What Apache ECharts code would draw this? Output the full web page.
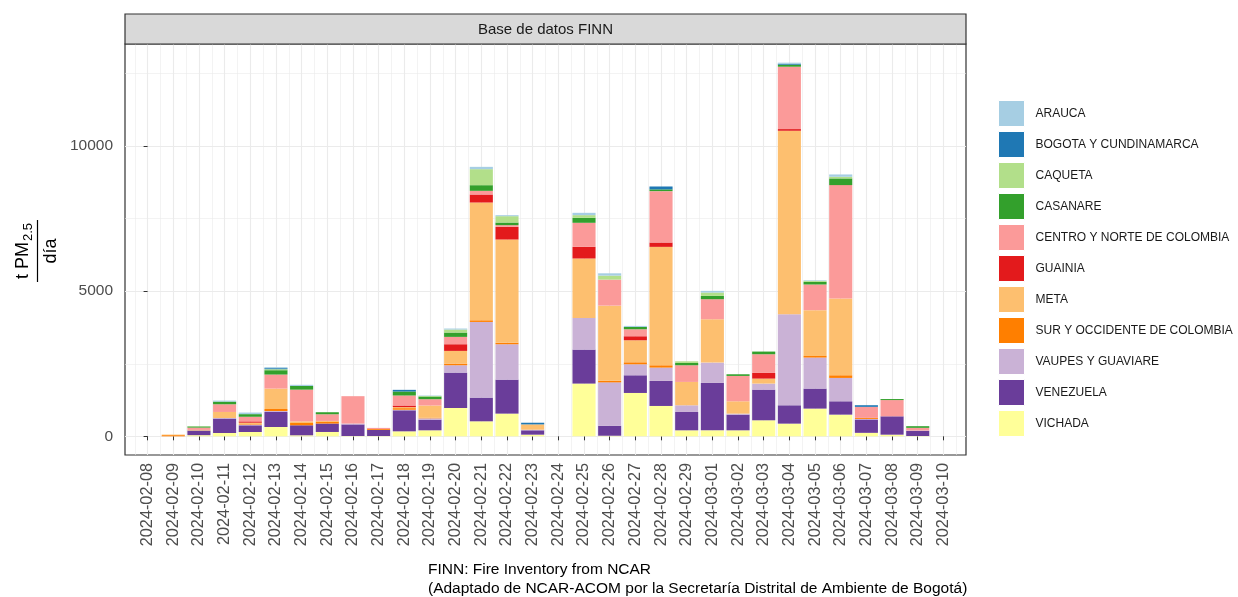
<!DOCTYPE html>
<html><head><meta charset="utf-8">
<script src="https://cdn.jsdelivr.net/npm/echarts@6/dist/echarts.min.js"></script>
<style>html,body{margin:0;padding:0;background:#fff}#c{width:1238px;height:597px}</style>
</head><body><div id="c"></div>
<script>
const DATES = ['2024-02-08','2024-02-09','2024-02-10','2024-02-11','2024-02-12','2024-02-13','2024-02-14','2024-02-15','2024-02-16','2024-02-17','2024-02-18','2024-02-19','2024-02-20','2024-02-21','2024-02-22','2024-02-23','2024-02-24','2024-02-25','2024-02-26','2024-02-27','2024-02-28','2024-02-29','2024-03-01','2024-03-02','2024-03-03','2024-03-04','2024-03-05','2024-03-06','2024-03-07','2024-03-08','2024-03-09','2024-03-10'];
const Y_TICKS = [0, 5000, 10000];
const Y_MINOR = [2500, 7500, 12500];

const VICHADA   = [0,0,40,115,148,320,35,150,10,10,172,207,976,517,782,57,0,1817,20,1494,1046,207,207,207,552,437,955,747,120,57,10,0];
const VENEZUELA = [0,0,160,497,231,517,345,290,400,210,724,368,1220,817,1172,150,0,1172,345,609,862,632,1632,540,1058,632,690,460,460,632,180,0];
const VAUPES    = [0,0,0,20,20,35,0,0,30,0,20,46,253,2607,1218,20,0,1092,1494,379,460,230,701,35,207,3138,1069,805,20,0,10,0];
const SUR       = [0,40,0,0,20,70,80,70,0,30,55,15,57,57,57,0,0,0,57,69,80,0,0,0,0,0,57,92,35,0,0,0];
const META      = [0,20,20,207,50,703,55,20,0,0,35,425,437,4058,3552,184,0,2046,2586,759,4080,805,1494,425,172,6321,1575,2644,0,0,0,0];
const GUAINIA   = [0,0,0,0,45,0,0,0,0,0,55,0,230,276,437,0,0,402,0,138,150,0,0,0,195,57,0,0,0,0,0,0];
const CENTRO    = [0,0,80,265,160,483,1093,230,943,40,345,218,253,126,57,0,0,828,897,241,1770,574,690,874,644,2150,885,3908,380,560,92,0];
const CASANARE  = [0,0,40,92,90,150,127,70,0,0,138,92,150,195,92,0,0,172,0,80,60,80,115,57,92,69,92,230,0,35,57,0];
const CAQUETA   = [0,0,10,0,0,35,0,0,0,0,0,20,103,552,218,0,0,92,138,0,0,57,115,0,0,0,35,57,0,0,0,0];
const BOGOTA    = [0,0,0,0,0,35,0,0,0,0,57,0,0,0,0,57,0,0,0,0,100,0,0,0,0,35,0,0,57,0,0,0];
const ARAUCA    = [0,0,0,35,55,35,40,0,0,0,0,15,35,80,35,0,0,80,80,35,0,0,57,0,0,35,20,80,0,0,0,0];

const LEGEND_ORDER = ['ARAUCA','BOGOTA Y CUNDINAMARCA','CAQUETA','CASANARE','CENTRO Y NORTE DE COLOMBIA','GUAINIA','META','SUR Y OCCIDENTE DE COLOMBIA','VAUPES Y GUAVIARE','VENEZUELA','VICHADA'];
const SERIES_VALUES = {
  'ARAUCA': ARAUCA, 'BOGOTA Y CUNDINAMARCA': BOGOTA, 'CAQUETA': CAQUETA, 'CASANARE': CASANARE,
  'CENTRO Y NORTE DE COLOMBIA': CENTRO, 'GUAINIA': GUAINIA, 'META': META,
  'SUR Y OCCIDENTE DE COLOMBIA': SUR, 'VAUPES Y GUAVIARE': VAUPES, 'VENEZUELA': VENEZUELA, 'VICHADA': VICHADA
};
const COLORS = {
  'ARAUCA':'#A6CEE3','BOGOTA Y CUNDINAMARCA':'#1F78B4','CAQUETA':'#B2DF8A','CASANARE':'#33A02C',
  'CENTRO Y NORTE DE COLOMBIA':'#FB9A99','GUAINIA':'#E31A1C','META':'#FDBF6F',
  'SUR Y OCCIDENTE DE COLOMBIA':'#FF7F00','VAUPES Y GUAVIARE':'#CAB2D6','VENEZUELA':'#6A3D9A','VICHADA':'#FFFF99'
};

const FONT = '"Liberation Sans", Arial, Helvetica, sans-serif';
const n = DATES.length;
const totals = DATES.map((d,i)=>LEGEND_ORDER.reduce((s,k)=>s+SERIES_VALUES[k][i],0));
const maxTotal = Math.max(...totals);
const yPad = maxTotal*0.05;
const xIdx = DATES.map((d,i)=>i);
const xHalf = [];
for (let i=-1;i<n;i++) xHalf.push(i+0.5);

// panel layout (ggplot-like expansion of the discrete/date axis)
const PAD = 0.88;
const PANEL = {left:125, top:44, width:841, height:411};
const band = PANEL.width/(n-1+2*PAD);
const XMIN = -PAD, XMAX = n-1+PAD;
const barGrid = {left:PANEL.left+(PAD-0.5)*band, top:PANEL.top, width:band*n, height:PANEL.height};

const stackOrder = LEGEND_ORDER.slice().reverse();
const series = stackOrder.map(name=>({
  name, type:'bar', stack:'total', xAxisIndex:2, yAxisIndex:2,
  barWidth:'90%',
  itemStyle:{color:COLORS[name]},
  emphasis:{disabled:true},
  data: SERIES_VALUES[name]
}));

const chart = echarts.init(document.getElementById('c'), null, {renderer:'canvas'});
chart.setOption({
  animation:false,
  backgroundColor:'#fff',
  textStyle:{fontFamily:FONT},
  grid:[
    {left:PANEL.left, top:PANEL.top, width:PANEL.width, height:PANEL.height, show:true, borderColor:'#333', borderWidth:1.2, backgroundColor:'transparent', containLabel:false},
    {left:barGrid.left, top:barGrid.top, width:barGrid.width, height:barGrid.height, show:false, containLabel:false}
  ],
  legend:{
    orient:'vertical', left:998, top:100, padding:0, itemWidth:26, itemHeight:26, itemGap:4, icon:'rect',
    data:LEGEND_ORDER, selectedMode:false,
    itemStyle:{borderColor:'#fff', borderWidth:1},
    textStyle:{fontSize:12, color:'#1a1a1a', fontFamily:FONT, padding:[0,0,0,6]}
  },
  xAxis:[
    {gridIndex:0, type:'value', min:XMIN, max:XMAX, position:'bottom',
     axisLine:{show:false},
     axisTick:{show:true, length:4, lineStyle:{color:'#333', width:1}, customValues:xIdx},
     axisLabel:{customValues:xIdx, rotate:90, margin:8, fontSize:16.3, color:'#4D4D4D', fontFamily:FONT,
       formatter:(v)=>DATES[Math.round(v)]},
     splitLine:{show:true, lineStyle:{color:'#EBEBEB', width:1.1}}},
    {gridIndex:0, type:'value', min:XMIN, max:XMAX, position:'top',
     axisLine:{show:false}, axisLabel:{show:false},
     axisTick:{show:false, customValues:xHalf},
     splitLine:{show:true, lineStyle:{color:'#EBEBEB', width:0.6}}},
    {gridIndex:1, type:'category', data:DATES, boundaryGap:true, show:false}
  ],
  yAxis:[
    {gridIndex:0, type:'value', min:-yPad, max:maxTotal+yPad, position:'left',
     axisLine:{show:false},
     axisTick:{show:true, length:4, lineStyle:{color:'#333', width:1}, customValues:Y_TICKS},
     axisLabel:{customValues:Y_TICKS, margin:12, fontSize:15.5, color:'#4D4D4D', fontFamily:FONT, formatter:(v)=>String(v)},
     splitLine:{show:true, lineStyle:{color:'#EBEBEB', width:1.1}}},
    {gridIndex:0, type:'value', min:-yPad, max:maxTotal+yPad, position:'right',
     axisLine:{show:false}, axisLabel:{show:false},
     axisTick:{show:false, customValues:Y_MINOR},
     splitLine:{show:true, lineStyle:{color:'#EBEBEB', width:0.6}}},
    {gridIndex:1, type:'value', min:-yPad, max:maxTotal+yPad, show:false, splitLine:{show:false}}
  ],
  series,
  graphic:[
    {type:'rect', shape:{x:125, y:14, width:841, height:30}, style:{fill:'#D9D9D9', stroke:'#333', lineWidth:1.2}, z:10},
    {type:'text', x:545.5, y:29.5, style:{text:'Base de datos FINN', fontSize:15, fontFamily:FONT, fill:'#1A1A1A', align:'center', verticalAlign:'middle'}, z:11},
    {type:'group', x:37.5, y:251, rotation:Math.PI/2, children:[
      {type:'text', x:-28, y:-14, style:{text:'t PM', fontSize:18, fontFamily:FONT, fill:'#000', align:'left', verticalAlign:'middle'}},
      {type:'text', x:10, y:-9, style:{text:'2.5', fontSize:13, fontFamily:FONT, fill:'#000', align:'left', verticalAlign:'middle'}},
      {type:'line', shape:{x1:-31, y1:0, x2:31, y2:0}, style:{stroke:'#000', lineWidth:1.2}},
      {type:'text', x:0, y:14, style:{text:'día', fontSize:18, fontFamily:FONT, fill:'#000', align:'center', verticalAlign:'middle'}}
    ]},
    {type:'text', x:428, y:560, style:{text:'FINN: Fire Inventory from NCAR\n(Adaptado de NCAR-ACOM por la Secretaría Distrital de Ambiente de Bogotá)', fontSize:15.5, lineHeight:19, fontFamily:FONT, fill:'#000', align:'left', verticalAlign:'top'}}
  ]
});
</script></body></html>
